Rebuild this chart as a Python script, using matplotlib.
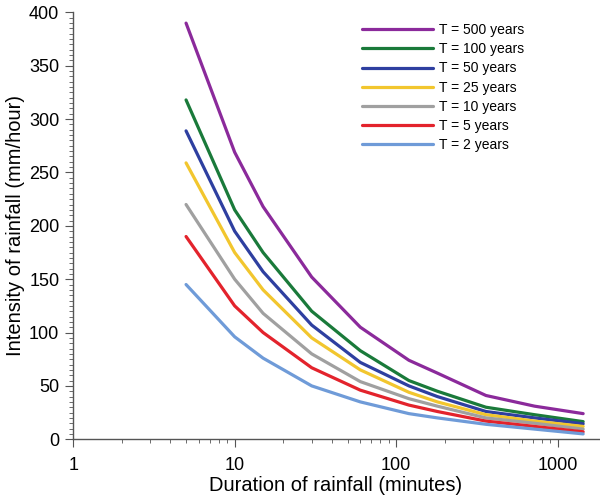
import matplotlib
matplotlib.use("Agg")
from matplotlib import pyplot as plt
from matplotlib.ticker import MultipleLocator, FixedLocator, FixedFormatter, LogLocator, NullFormatter

plt.rcParams['font.family'] = ['Liberation Sans', 'DejaVu Sans']

# duration of rainfall (minutes)
duration = [5, 10, 15, 30, 60, 120, 180, 360, 720, 1440]

# intensity (mm/hour) per return period
t500 = [390, 269, 218, 152, 105, 74, 62, 41, 31, 24]
t100 = [318, 215, 175, 120, 83, 55, 45, 30, 23, 16.5]
t50 = [289, 195, 157, 107, 72, 50, 40, 26, 20, 14.5]
t25 = [259, 175, 140, 95, 65, 44, 35, 23, 17, 12]
t10 = [220, 150, 118, 80, 54, 38, 31, 20, 15, 9.5]
t5 = [190, 125, 100, 67, 46, 32, 26, 17, 12, 7]
t2 = [145, 96, 76, 50, 35, 24, 20, 14, 9.5, 5]

labels = ["T = 500 years", "T = 100 years", "T = 50 years", "T = 25 years",
          "T = 10 years", "T = 5 years", "T = 2 years"]
colors = ["#8B2A9B", "#1A7A3A", "#2E3FA0", "#F2C62E", "#A0A0A0", "#E3232C", "#6F9BD8"]
series = [t500, t100, t50, t25, t10, t5, t2]

fig = plt.figure(figsize=(6, 4.98), dpi=100)
ax = fig.add_axes([0.122, 0.118, 0.876, 0.857])

for vals, lab, col in zip(series, labels, colors):
    ax.plot(duration, vals, color=col, lw=2.3, label=lab, solid_capstyle='round')

ax.set_xscale('log')
ax.set_xlim(1, 1800)
ax.set_ylim(0, 400)
ax.yaxis.set_major_locator(MultipleLocator(50))
ax.yaxis.set_minor_locator(MultipleLocator(5))
ax.xaxis.set_major_locator(FixedLocator([1, 10, 100, 1000]))
ax.xaxis.set_major_formatter(FixedFormatter(["1", "10", "100", "1000"]))
ax.xaxis.set_minor_locator(LogLocator(base=10, subs=range(2, 10)))
ax.xaxis.set_minor_formatter(NullFormatter())

for s in ['top', 'right']:
    ax.spines[s].set_visible(False)
for s in ['left', 'bottom']:
    ax.spines[s].set_color('#555555')
    ax.spines[s].set_linewidth(1.0)

ax.tick_params(which='major', length=6, color='#555555', labelsize=13, pad=4)
ax.tick_params(which='minor', length=3, color='#555555')
ax.tick_params(axis='x', which='major', pad=7)

ax.set_xlabel("Duration of rainfall (minutes)", fontsize=14.5, labelpad=1)
ax.set_ylabel("Intensity of rainfall (mm/hour)", fontsize=14.5, labelpad=3)

ax.legend(loc='upper left', bbox_to_anchor=(0.549, 0.975), frameon=False,
          borderpad=0, borderaxespad=0,
          fontsize=10, handlelength=5.1, handletextpad=0.43, labelspacing=0.37)

fig.savefig("out.png", dpi=100)
